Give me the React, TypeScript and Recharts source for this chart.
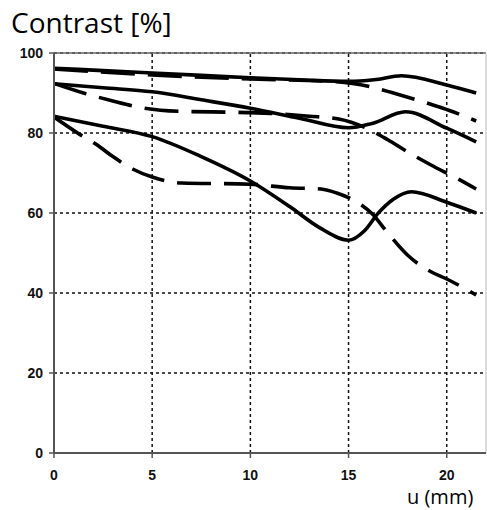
// MTF-style contrast chart — contrast vs image height, solid / dashed pairs.

import {
  CartesianGrid,
  Line,
  LineChart,
  ReferenceLine,
  XAxis,
  YAxis,
} from "recharts";

// [u (mm), contrast %]
const solidTop: [number, number][] = [
  [0, 96.2], [2.5, 95.6], [5, 95], [7.5, 94.4], [10, 93.8], [12.5, 93.3],
  [15, 92.9], [16.3, 93.3], [17.7, 94.3], [20, 92], [21.5, 90],
];
const dashedTop: [number, number][] = [
  [0, 96], [5, 94.5], [10, 93.5], [14.4, 92.8], [16.4, 91.2], [17.2, 90.1],
  [19.3, 87], [20.1, 85.7], [21.5, 83],
];
const solidMid: [number, number][] = [
  [0, 92.3], [2.5, 91.3], [5, 90.3], [7.5, 88.3], [10, 86.2], [12.5, 83.7],
  [15, 81.3], [16.2, 82.4], [17.9, 85.3], [20, 81.2], [21.5, 77.8],
];
const dashedMid: [number, number][] = [
  [0, 92.4], [1.5, 90], [3, 88], [4.5, 86.3], [6.5, 85.4], [9, 85.2],
  [11, 84.9], [13, 84.2], [14.5, 83.5], [16, 81], [17, 78.3], [18, 75.3],
  [19.2, 72], [20.5, 68.7], [21.5, 66],
];
const solidLow: [number, number][] = [
  [0, 84.2], [2.5, 81.7], [5, 79.1], [7.5, 74.1], [10, 68], [12, 61.6],
  [13.5, 56.4], [15, 53.2], [15.8, 55.5], [16.5, 59.9], [17.3, 63.5],
  [18.2, 65.3], [20, 62.7], [21.5, 60],
];
const dashedLow: [number, number][] = [
  [0, 84], [1.2, 80], [2.2, 77], [3, 74.1], [4, 71], [5, 69], [6.5, 67.5],
  [10, 67.2], [12, 66.3], [13.6, 66], [14.4, 65], [15.4, 62.8], [16.2, 59.8],
  [17, 55], [18, 49.5], [19.2, 45.3], [20, 43.5], [21.5, 39.5],
];

const uTicks = [0, 5, 10, 15, 20];
const contrastTicks = [0, 20, 40, 60, 80, 100];

const toRows = (pts: [number, number][]) => pts.map(([u, c]) => ({ u, c }));

const series = [
  { name: "solidTop", pts: solidTop, dash: undefined },
  { name: "dashedTop", pts: dashedTop, dash: "34 13" },
  { name: "solidMid", pts: solidMid, dash: undefined },
  { name: "dashedMid", pts: dashedMid, dash: "34 13" },
  { name: "solidLow", pts: solidLow, dash: undefined },
  { name: "dashedLow", pts: dashedLow, dash: "34 13" },
];

const tickStyle = {
  fill: "#111",
  fontSize: 14,
  fontWeight: 700,
  fontFamily: "'Liberation Sans', Arial, sans-serif",
};

const gridDash = { stroke: "#111", strokeDasharray: "3 3", strokeWidth: 1.5 };

export default function App() {
  return (
    <div
      style={{
        position: "absolute",
        left: 0,
        top: 0,
        width: 487,
        height: 510,
        background: "#fff",
      }}
    >
      <LineChart
        width={487}
        height={510}
        margin={{ top: 53, right: 1, bottom: 0, left: 0 }}
      >
        <CartesianGrid vertical={false} {...gridDash} />
        {uTicks.slice(1).map((t) => (
          <ReferenceLine key={t} x={t} {...gridDash} />
        ))}
        <XAxis
          type="number"
          dataKey="u"
          domain={[0, 22]}
          ticks={uTicks}
          allowDataOverflow
          height={57}
          tick={tickStyle}
          tickSize={5}
          tickMargin={12}
          axisLine={{ stroke: "#555", strokeWidth: 2 }}
          tickLine={{ stroke: "#555", strokeWidth: 1.5 }}
        />
        <YAxis
          type="number"
          domain={[0, 100]}
          ticks={contrastTicks}
          width={54}
          tick={tickStyle}
          tickSize={5}
          tickMargin={6}
          axisLine={{ stroke: "#555", strokeWidth: 2 }}
          tickLine={{ stroke: "#555", strokeWidth: 1.5 }}
        />
        <ReferenceLine y={100} stroke="#666" strokeWidth={1.5} />
        <ReferenceLine x={22} stroke="#bbb" strokeWidth={1} />
        {series.map((s) => (
          <Line
            key={s.name}
            data={toRows(s.pts)}
            dataKey="c"
            type="monotone"
            stroke="#000"
            strokeWidth={3.6}
            strokeDasharray={s.dash}
            dot={false}
            activeDot={false}
            isAnimationActive={false}
          />
        ))}
      </LineChart>
      <svg
        width={487}
        height={510}
        style={{ position: "absolute", left: 0, top: 0, pointerEvents: "none" }}
      >
        <text
          x={11}
          y={33}
          fontSize={28}
          fontFamily="'Open Sans', 'Noto Sans', sans-serif"
          fill="#000"
        >
          Contrast [%]
        </text>
        <text
          x={407}
          y={504}
          fontSize={20}
          fontFamily="'Open Sans', 'Noto Sans', sans-serif"
          fill="#000"
        >
          u (mm)
        </text>
      </svg>
    </div>
  );
}
